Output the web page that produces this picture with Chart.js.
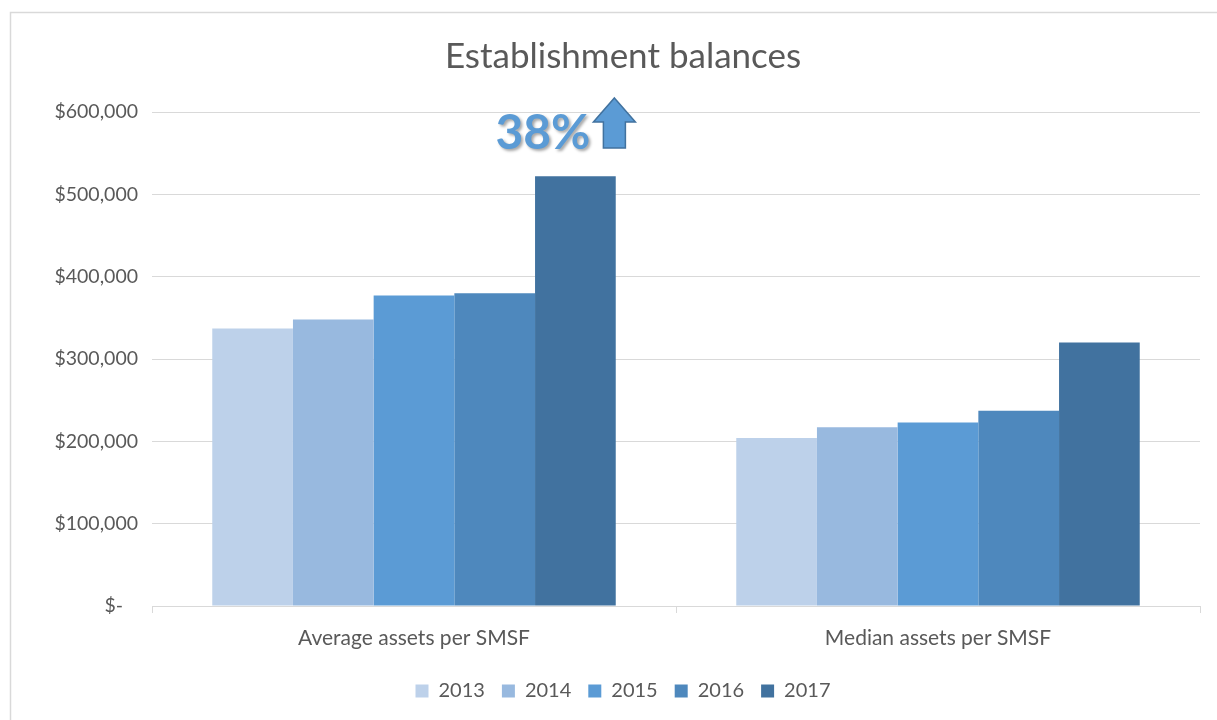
<!DOCTYPE html>
<html>
<head>
<meta charset="utf-8">
<script src="https://cdn.jsdelivr.net/npm/chart.js@4/dist/chart.umd.min.js"></script>
<style>
  html, body { margin: 0; padding: 0; background: #ffffff; }
  #wrap { width: 1217px; height: 720px; position: relative; }
</style>
</head>
<body>
<div id="wrap"><canvas id="c" width="1217" height="720"></canvas></div>
<script>
const categories = ['Average assets per SMSF', 'Median assets per SMSF'];
const years = ['2013', '2014', '2015', '2016', '2017'];
const values2013 = [337000, 204000];
const values2014 = [348000, 217000];
const values2015 = [377000, 223000];
const values2016 = [380000, 237000];
const values2017 = [522000, 320000];
const yTickValues = [0, 100000, 200000, 300000, 400000, 500000, 600000];
const yTickLabels = ['$-   ', '$100,000', '$200,000', '$300,000', '$400,000', '$500,000', '$600,000'];
const titleText = 'Establishment balances';
const annotationText = '38%';

const colors = ['#BDD1EA', '#98B9DF', '#5B9BD5', '#4E88BD', '#41729F'];
const seriesValues = [values2013, values2014, values2015, values2016, values2017];
const FONT = 'Lato, "Open Sans", sans-serif';
const TXT = '#595959';

const framePlugin = {
  id: 'frame',
  beforeDraw(chart) {
    const ctx = chart.ctx;
    ctx.save();
    ctx.fillStyle = '#ffffff';
    ctx.fillRect(0, 0, chart.width, chart.height);
    ctx.strokeStyle = '#D9D9D9';
    ctx.lineWidth = 1.5;
    ctx.beginPath();
    ctx.moveTo(10.5, 720);
    ctx.lineTo(10.5, 12.5);
    ctx.lineTo(1217, 12.5);
    ctx.stroke();
    ctx.restore();
  }
};

const annotationPlugin = {
  id: 'growthNote',
  afterDatasetsDraw(chart) {
    const ctx = chart.ctx;
    const bar = chart.getDatasetMeta(4).data[0];
    const yScale = chart.scales.y;
    const baseY = yScale.getPixelForValue(600000);
    ctx.save();
    ctx.font = 'bold 48px ' + FONT;
    ctx.fillStyle = '#5B9BD5';
    ctx.textAlign = 'right';
    ctx.textBaseline = 'alphabetic';
    ctx.shadowColor = 'rgba(0,0,0,0.35)';
    ctx.shadowOffsetX = 2;
    ctx.shadowOffsetY = 2;
    ctx.shadowBlur = 3;
    ctx.fillText(annotationText, bar.x + 15, baseY + 37);
    ctx.restore();
    const cx = bar.x + 39;
    const top = baseY - 14;
    const headBase = baseY + 10;
    const bottom = baseY + 36;
    const hw = 21, sw = 11;
    ctx.save();
    ctx.beginPath();
    ctx.moveTo(cx, top);
    ctx.lineTo(cx + hw, headBase);
    ctx.lineTo(cx + sw, headBase);
    ctx.lineTo(cx + sw, bottom);
    ctx.lineTo(cx - sw, bottom);
    ctx.lineTo(cx - sw, headBase);
    ctx.lineTo(cx - hw, headBase);
    ctx.closePath();
    ctx.fillStyle = '#5B9BD5';
    ctx.fill();
    ctx.strokeStyle = '#41729F';
    ctx.lineWidth = 1.5;
    ctx.stroke();
    ctx.restore();
  }
};

new Chart(document.getElementById('c'), {
  type: 'bar',
  data: {
    labels: categories,
    datasets: years.map((y, i) => ({
      label: y,
      data: seriesValues[i],
      backgroundColor: colors[i],
      borderWidth: 0,
      barPercentage: 1.0,
      categoryPercentage: 0.77
    }))
  },
  options: {
    responsive: false,
    animation: false,
    devicePixelRatio: 1,
    layout: { padding: { left: 46, right: 17, top: 0, bottom: 9 } },
    plugins: {
      title: {
        display: true,
        text: titleText,
        color: TXT,
        font: { family: FONT, size: 35, weight: 'normal' },
        padding: { top: 36, bottom: 34 }
      },
      legend: {
        position: 'bottom',
        labels: {
          color: TXT,
          font: { family: FONT, size: 20 },
          boxWidth: 13,
          boxHeight: 13,
          padding: 17
        }
      },
      tooltip: { enabled: false }
    },
    scales: {
      x: {
        afterFit(scale) { scale.height = 58; },
        grid: { display: true, drawOnChartArea: false, color: '#D9D9D9', tickLength: 7, offset: true },
        border: { display: true, color: '#D9D9D9' },
        ticks: { color: TXT, font: { family: FONT, size: 21 }, padding: 13 }
      },
      y: {
        min: 0,
        max: 600000,
        afterBuildTicks(scale) { scale.ticks = yTickValues.map(v => ({ value: v })); },
        afterFit(scale) { scale.width = 106; },
        grid: { color: '#D9D9D9', drawTicks: false },
        border: { display: false },
        ticks: {
          color: TXT,
          font: { family: FONT, size: 19.5 },
          padding: 14,
          callback: (v) => { const k = yTickValues.indexOf(v); return k >= 0 ? yTickLabels[k] : ''; }
        }
      }
    }
  },
  plugins: [framePlugin, annotationPlugin]
});
</script>
</body>
</html>
